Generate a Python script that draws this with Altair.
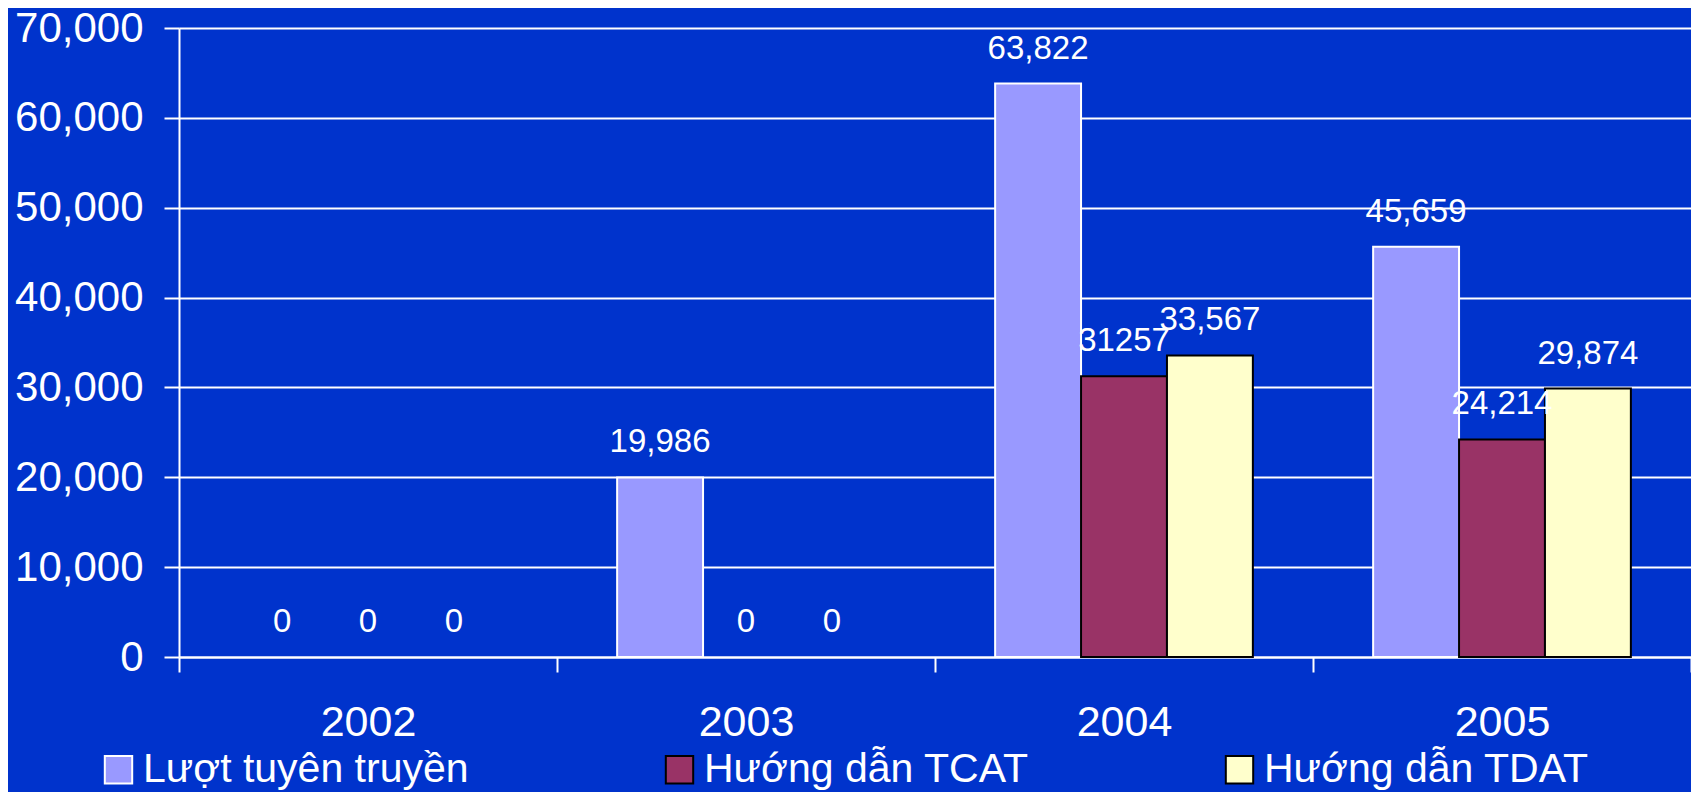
import altair as alt
import pandas as pd

years = ["2002", "2003", "2004", "2005"]
series = ["Lượt tuyên truyền", "Hướng dẫn TCAT", "Hướng dẫn TDAT"]

luot_values = [0, 19986, 63822, 45659]
tcat_values = [0, 0, 31257, 24214]
tdat_values = [0, 0, 33567, 29874]

luot_labels = ["0", "19,986", "63,822", "45,659"]
tcat_labels = ["0", "0", "31257", "24,214"]
tdat_labels = ["0", "0", "33,567", "29,874"]

fill_colors = ["#9999FF", "#993366", "#FFFFCC"]
stroke_colors = ["#FFFFFF", "#000000", "#000000"]
y_ticks = [0, 10000, 20000, 30000, 40000, 50000, 60000, 70000]

rows = []
for s, vals, labs in zip(series, [luot_values, tcat_values, tdat_values],
                         [luot_labels, tcat_labels, tdat_labels]):
    for y, v, l in zip(years, vals, labs):
        rows.append({"year": y, "series": s, "value": v, "label": l})
df = pd.DataFrame(rows)

FONT = "Liberation Sans"

legend = alt.Legend(
    title=None, orient="none", legendX=-81, legendY=721, direction="horizontal",
    columns=3, columnPadding=190, labelFontSize=41, labelColor="white", labelFont=FONT,
    labelOffset=4, labelLimit=600, symbolType="square", symbolSize=750,
    symbolStrokeWidth=2, symbolOpacity=1, padding=0,
)

x_scale = alt.Scale(paddingInner=0, paddingOuter=0)
xoff_scale = alt.Scale(domain=series, paddingInner=0, paddingOuter=0.7)

x_enc = alt.X(
    "year:N", sort=years, scale=x_scale,
    axis=alt.Axis(
        title=None, labelAngle=0, labelFontSize=43, labelColor="white", labelFont=FONT,
        labelPadding=29, tickColor="white", tickWidth=2, tickSize=15, tickBand="extent",
        domainColor="white", domainWidth=2, grid=False,
    ),
)
y_enc = alt.Y(
    "value:Q", scale=alt.Scale(domain=[0, 70000], nice=False),
    axis=alt.Axis(
        title=None, values=y_ticks, format=",d", labelFontSize=42, labelColor="white",
        labelFont=FONT, labelPadding=21, tickColor="white", tickWidth=2, tickSize=15,
        domainColor="white", domainWidth=2, grid=True, gridColor="white", gridWidth=2,
        gridOpacity=1,
    ),
)

bars = alt.Chart(df).transform_filter("datum.value > 0").mark_bar(
    strokeWidth=2, opacity=1
).encode(
    x=x_enc,
    xOffset=alt.XOffset("series:N", sort=series, scale=xoff_scale),
    y=y_enc,
    color=alt.Color("series:N", sort=series,
                    scale=alt.Scale(domain=series, range=fill_colors), legend=legend),
    stroke=alt.Stroke("series:N", sort=series,
                      scale=alt.Scale(domain=series, range=stroke_colors), legend=legend),
)

text = alt.Chart(df).mark_text(
    color="white", fontSize=33, font=FONT, baseline="alphabetic", dy=-25
).encode(
    x=alt.X("year:N", sort=years),
    xOffset=alt.XOffset("series:N", sort=series),
    y=alt.Y("value:Q"),
    text="label:N",
)

chart = alt.layer(bars, text).properties(
    width=1512, height=629, background="#0033CC",
    autosize=alt.AutoSizeParams(type="none"),
    padding={"left": 171, "top": 20, "right": 0, "bottom": 135},
).configure_view(stroke=None)

chart.save("out.html", embed_options={"renderer": "svg", "actions": False})
